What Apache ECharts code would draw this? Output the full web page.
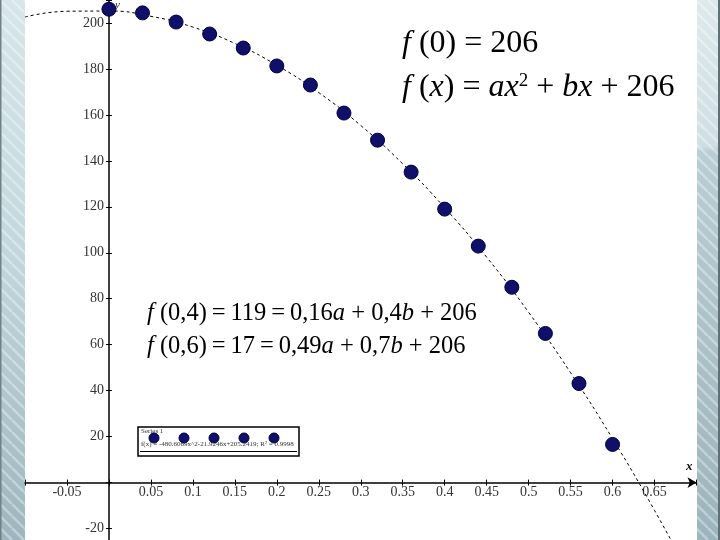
<!DOCTYPE html>
<html>
<head>
<meta charset="utf-8">
<script src="https://cdn.jsdelivr.net/npm/echarts@6/dist/echarts.min.js"></script>
<style>html,body{margin:0;padding:0;background:#fff;}#c{width:720px;height:540px;}</style>
</head>
<body>
<div id="c"></div>
<script>
// ---- data ----
var pointX = [0, 0.04, 0.08, 0.12, 0.16, 0.2, 0.24, 0.28, 0.32, 0.36, 0.4, 0.44, 0.48, 0.52, 0.56, 0.6];
var pointY = [206, 204.4, 200.4, 195.2, 189.1, 181.3, 173, 160.8, 149, 135.1, 119, 102.9, 85, 64.9, 43.1, 16.6];
var trendX = [-0.1, -0.05, 0, 0.05, 0.1, 0.15, 0.2, 0.25, 0.3, 0.35, 0.4, 0.45, 0.5, 0.55, 0.6, 0.65, 0.7];
var trendY = [202.6, 205.1, 205.2, 202.9, 198.2, 191.1, 181.6, 169.7, 155.4, 138.7, 119.6, 98.1, 74.1, 47.8, 19.1, -12.1, -45.6];
var seriesName = 'Series 1';
var trendLabel = 'f(x) = -480.6069x^2-21.9246x+205.2419; R² = 0.9998';
var formulaTop = ['{i|f} (0) = 206', '{i|f} ({i|x}) = {i|ax}{s|2} + {i|bx} + 206'];
var formulaMid = ['{i|f} (0,4)\u2009=\u2009119\u2009=\u20090,16{i|a} + 0,4{i|b} + 206', '{i|f} (0,6)\u2009=\u200917\u2009=\u20090,49{i|a} + 0,7{i|b} + 206'];

var scatterData = pointX.map(function (x, i) { return [x, pointY[i]]; });
var trendData = trendX.map(function (x, i) { return [x, trendY[i]]; });

// stripe pattern for slide borders
function stripes(alpha) {
  var cv = document.createElement('canvas');
  cv.width = 12; cv.height = 12;
  var g = cv.getContext('2d');
  g.strokeStyle = 'rgba(255,255,255,' + alpha + ')';
  g.lineWidth = 2.5;
  for (var k = -12; k <= 24; k += 12) {
    g.beginPath(); g.moveTo(k, 0); g.lineTo(k + 12, 12); g.stroke();
  }
  return { image: cv, repeat: 'repeat' };
}

var serif = '"Liberation Serif", "DejaVu Serif", serif';
var chart = echarts.init(document.getElementById('c'), null, { renderer: 'canvas' });

var X_MIN = -0.1, X_MAX = 0.7, Y_MIN = -40, Y_MAX = 210;
var G_LEFT = 25, G_RIGHT = 23.5, G_TOP = 0, G_BOTTOM = -34.5;
var gW = 720 - G_LEFT - G_RIGHT, gH = 540 - G_TOP - G_BOTTOM;
// shift axes so they cross at (0,0)
var yOff = -((0 - X_MIN) / (X_MAX - X_MIN) * gW);
var xOff = -((0 - Y_MIN) / (Y_MAX - Y_MIN) * gH);

function xFmt(v) {
  var r = Math.round(v * 100) / 100;
  if (r === 0 || r <= -0.1 || r >= 0.7) return '';
  return String(r);
}
function yFmt(v) {
  if (v === 0 || v > 205 || v < -30) return '';
  return String(v);
}

var legendMarkers = [154, 184, 214, 244, 274].map(function (cx) {
  return { type: 'circle', shape: { cx: cx, cy: 438, r: 5 }, style: { fill: '#10106b', stroke: '#000040', lineWidth: 1 }, z: 101 };
});

var richTop = { i: { fontStyle: 'italic', fontFamily: serif, fontSize: 32 }, s: { fontFamily: serif, fontSize: 19, verticalAlign: 'top', padding: [0, 0, 14, 0] } };
var richMid = { i: { fontStyle: 'italic', fontFamily: serif, fontSize: 24.5 } };

var option = {
  backgroundColor: '#ffffff',
  animation: false,
  grid: { left: G_LEFT, right: G_RIGHT, top: G_TOP, bottom: G_BOTTOM, containLabel: false, outerBoundsMode: 'none' },
  xAxis: [{
    type: 'value', min: X_MIN, max: X_MAX, interval: 0.05, position: 'bottom', offset: xOff,
    axisLine: { onZero: false, lineStyle: { color: '#000', width: 1.5 }, symbol: ['none', 'arrow'], symbolSize: [8, 9] },
    axisTick: { show: true, length: 3, lineStyle: { color: '#000', width: 1 } },
    axisLabel: { formatter: xFmt, color: '#333', fontFamily: serif, fontSize: 14, margin: 3 },
    splitLine: { show: false }
  }, {
    type: 'value', min: X_MIN, max: X_MAX, interval: 0.05, position: 'bottom', offset: xOff,
    axisLine: { show: false, onZero: false },
    axisTick: { show: true, inside: true, length: 3, lineStyle: { color: '#000', width: 1 } },
    axisLabel: { show: false }, splitLine: { show: false }
  }],
  yAxis: [{
    type: 'value', min: Y_MIN, max: Y_MAX, interval: 20, position: 'left', offset: yOff,
    axisLine: { onZero: false, lineStyle: { color: '#000', width: 1.5 } },
    axisTick: { show: true, length: 3, lineStyle: { color: '#000', width: 1 } },
    axisLabel: { formatter: yFmt, color: '#333', fontFamily: serif, fontSize: 14, margin: 5 },
    splitLine: { show: false }
  }, {
    type: 'value', min: Y_MIN, max: Y_MAX, interval: 20, position: 'left', offset: yOff,
    axisLine: { show: false, onZero: false },
    axisTick: { show: true, inside: true, length: 3, lineStyle: { color: '#000', width: 1 } },
    axisLabel: { show: false }, splitLine: { show: false }
  }],
  series: [{
    name: 'trend', type: 'line', data: trendData, smooth: true, showSymbol: false,
    lineStyle: { color: '#000', width: 1, type: [3, 3] }, clip: true, z: 2
  }, {
    name: seriesName, type: 'scatter', data: scatterData, symbolSize: 14,
    itemStyle: { color: '#10106b', borderColor: '#000040', borderWidth: 1, opacity: 1 }, z: 5
  }],
  graphic: [
    // slide borders
    { type: 'rect', shape: { x: 0, y: 0, width: 25, height: 540 }, z: -10,
      style: { fill: new echarts.graphic.LinearGradient(0, 0, 0, 1, [
        { offset: 0, color: '#d6e6ea' }, { offset: 0.45, color: '#c3d8de' }, { offset: 1, color: '#9db6bd' }]) } },
    { type: 'rect', shape: { x: 0, y: 0, width: 25, height: 540 }, z: -9, style: { fill: stripes(0.35) } },
    { type: 'rect', shape: { x: 0, y: 0, width: 1.5, height: 540 }, z: -8, style: { fill: '#6e8288' } },
    { type: 'rect', shape: { x: 697, y: 0, width: 23, height: 540 }, z: -10,
      style: { fill: new echarts.graphic.LinearGradient(0, 0, 0, 1, [
        { offset: 0, color: '#dde9ec' }, { offset: 0.27, color: '#cfdfe3' }, { offset: 0.28, color: '#b9ced4' }, { offset: 1, color: '#9cb4bb' }]) } },
    { type: 'rect', shape: { x: 697, y: 0, width: 23, height: 540 }, z: -9, style: { fill: stripes(0.35) } },
    { type: 'rect', shape: { x: 718, y: 0, width: 2, height: 540 }, z: -8, style: { fill: '#5f7177' } },
    // axis names
    { type: 'text', x: 115, y: 0, z: 100, style: { text: 'y', fontFamily: serif, fontStyle: 'italic', fontSize: 11, fill: '#222' } },
    { type: 'text', x: 686, y: 460, z: 100, style: { text: 'x', fontFamily: serif, fontStyle: 'italic', fontWeight: 'bold', fontSize: 13, fill: '#111' } },
    // formulas
    { type: 'text', x: 402, y: 44, z: 100, style: { text: formulaTop[0], fontFamily: serif, fontSize: 32, fill: '#000', verticalAlign: 'middle', rich: richTop } },
    { type: 'text', x: 402, y: 88, z: 100, style: { text: formulaTop[1], fontFamily: serif, fontSize: 32, fill: '#000', verticalAlign: 'middle', rich: richTop } },
    { type: 'text', x: 147, y: 314, z: 100, style: { text: formulaMid[0], fontFamily: serif, fontSize: 24.5, fill: '#000', verticalAlign: 'middle', rich: richMid } },
    { type: 'text', x: 147, y: 347, z: 100, style: { text: formulaMid[1], fontFamily: serif, fontSize: 24.5, fill: '#000', verticalAlign: 'middle', rich: richMid } },
    // legend box
    { type: 'rect', shape: { x: 138, y: 427, width: 161, height: 29 }, z: 99, style: { fill: '#fff', stroke: '#000', lineWidth: 1.5 } },
    { type: 'text', x: 141, y: 428, z: 100, style: { text: seriesName, fontFamily: serif, fontSize: 7, fill: '#333' } },
    { type: 'text', x: 141, y: 441, z: 100, style: { text: trendLabel, fontFamily: serif, fontSize: 7, fill: '#333' } },
    { type: 'line', shape: { x1: 140, y1: 451.5, x2: 297, y2: 451.5 }, z: 100, style: { stroke: '#000', lineWidth: 1 } }
  ].concat(legendMarkers)
};
chart.setOption(option);
</script>
</body>
</html>
